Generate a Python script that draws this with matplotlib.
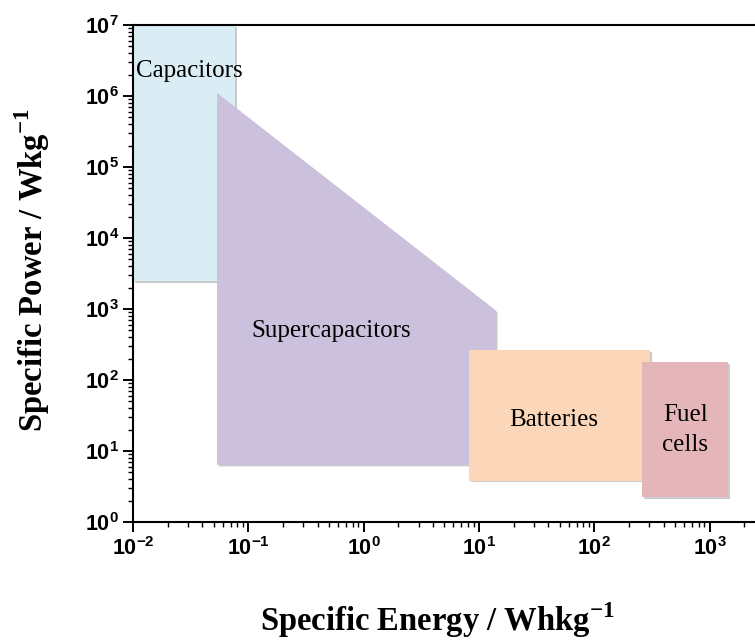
import matplotlib.pyplot as plt
from matplotlib.patches import Polygon
from matplotlib.ticker import LogLocator, FixedFormatter, NullFormatter
import matplotlib.patheffects as pe

plt.rcParams["mathtext.fontset"] = "custom"
plt.rcParams["mathtext.sf"] = "Liberation Sans:bold"
plt.rcParams["mathtext.bf"] = "Liberation Serif:bold"
plt.rcParams["mathtext.rm"] = "Liberation Serif"

# Ragone regions: (name, energy corners Wh/kg, power corners W/kg)
names = ["Capacitors", "Supercapacitors", "Batteries", "Fuel\ncells"]
energy = [
    [0.01, 0.077, 0.077, 0.01],
    [0.0535, 14.0, 14.0, 0.0535],
    [8.2, 305.0, 305.0, 8.2],
    [260.0, 1450.0, 1450.0, 260.0],
]
power = [
    [1e7, 1e7, 2480.0, 2480.0],
    [1.1e6, 950.0, 6.4, 6.4],
    [265.0, 265.0, 3.8, 3.8],
    [180.0, 180.0, 2.25, 2.25],
]
colors = ["#daedf4", "#cbc1dc", "#fbd6b8", "#e4b6b9"]
label_pos = [(0.0305, 2.25e6), (0.52, 490.0), (44.8, 27.0), (612.0, 19.8)]

x_ticks = [1e-2, 1e-1, 1e0, 1e1, 1e2, 1e3, 1e4]
x_labels = [r"$\mathsf{10^{-2}}$", r"$\mathsf{10^{-1}}$", r"$\mathsf{10^{0}}$",
            r"$\mathsf{10^{1}}$", r"$\mathsf{10^{2}}$", r"$\mathsf{10^{3}}$", ""]
y_ticks = [1e0, 1e1, 1e2, 1e3, 1e4, 1e5, 1e6, 1e7]
y_labels = [r"$\mathsf{10^{%d}}$" % i for i in range(8)]

fig = plt.figure(figsize=(7.55, 6.4), dpi=100)
ax = fig.add_axes([0.1762, 0.1844, 0.9166, 0.7766])
ax.set_xscale("log")
ax.set_yscale("log")
ax.set_xlim(1e-2, 1e4)
ax.set_ylim(1e0, 1e7)

shadow = [pe.SimplePatchShadow(offset=(1.2, -1.2), shadow_rgbFace="#999999", alpha=0.5), pe.Normal()]
for xs, ys, c in zip(energy, power, colors):
    poly = Polygon(list(zip(xs, ys)), closed=True, facecolor=c, edgecolor="none", zorder=1)
    poly.set_path_effects(shadow)
    ax.add_patch(poly)

for name, (lx, ly) in zip(names, label_pos):
    ax.text(lx, ly, name, family="Liberation Serif", fontsize=18,
            ha="center", va="center", zorder=3, linespacing=1.45)

ax.set_xticks(x_ticks)
ax.xaxis.set_major_formatter(FixedFormatter(x_labels))
ax.set_yticks(y_ticks)
ax.yaxis.set_major_formatter(FixedFormatter(y_labels))
ax.xaxis.set_minor_locator(LogLocator(base=10, subs=range(2, 10), numticks=20))
ax.yaxis.set_minor_locator(LogLocator(base=10, subs=range(2, 10), numticks=20))
ax.xaxis.set_minor_formatter(NullFormatter())
ax.yaxis.set_minor_formatter(NullFormatter())

ax.tick_params(which="major", direction="out", length=7, width=1.4, labelsize=15.5, pad=3)
ax.tick_params(which="minor", direction="out", length=3.6, width=1.0)
ax.tick_params(top=False, right=False, which="both")
for s in ax.spines.values():
    s.set_linewidth(1.5)

fig.text(0.042, 0.578, r"Specific Power / Wkg$^{\mathbf{-1}}$", family="Liberation Serif",
         fontweight="bold", fontsize=23.5, rotation=90, ha="center", va="center")
fig.text(0.579, 0.031, r"Specific Energy / Whkg$^{\mathbf{-1}}$", family="Liberation Serif",
         fontweight="bold", fontsize=23.5, ha="center", va="center")

fig.savefig("out.png", dpi=100)
